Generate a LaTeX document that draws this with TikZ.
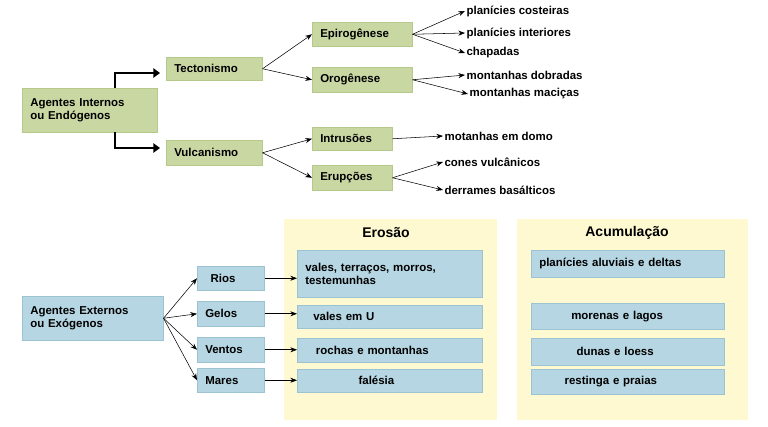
\documentclass[tikz,border=0pt]{standalone}
\usepackage{fontspec}
\setmainfont{Liberation Sans}
\usetikzlibrary{arrows.meta}
\definecolor{gfill}{HTML}{C9D7A3}
\definecolor{gline}{HTML}{B5C98A}
\definecolor{bfill}{HTML}{B5D6E2}
\definecolor{bline}{HTML}{9CC3D2}
\definecolor{yfill}{HTML}{FEF9D0}
\begin{document}
\begin{tikzpicture}[x=0.75pt,y=-0.75pt,
  txt/.style={font=\bfseries\fontsize{8.6}{10}\selectfont},
  gbox/.style={txt,fill=gfill,draw=gline,anchor=north west,inner sep=0pt,align=left},
  bbox/.style={txt,fill=bfill,draw=bline,anchor=north west,inner sep=0pt,align=left},
  bx/.style 2 args={minimum height=#2*0.75pt,text width=#1*0.75pt},
  leaf/.style={txt,anchor=west,inner sep=1pt},
  arr/.style={-{Stealth[length=5pt]},thin},
  big/.style={-{Triangle[length=5pt,width=7pt]},line width=2.2pt}]
\useasboundingbox (0,0) rectangle (768,427);
% green nodes
\node[gbox,bx={135}{44}] (ai) at (22,88) {\hspace*{6pt}Agentes Internos\\\hspace*{6pt}ou Endógenos};
\node[gbox,bx={96}{23}] (tec) at (166,57) {\hspace*{6pt}Tectonismo};
\node[gbox,bx={96}{25}] (vul) at (166,140) {\hspace*{6pt}Vulcanismo};
\node[gbox,bx={100}{24}] (epi) at (312,22) {\hspace*{6pt}Epirogênese};
\node[gbox,bx={100}{25}] (oro) at (312,67) {\hspace*{6pt}Orogênese};
\node[gbox,bx={80}{23}] (int) at (312,127) {\hspace*{6pt}Intrusões};
\node[gbox,bx={80}{25}] (eru) at (312,165) {\hspace*{6pt}Erupções};
\coordinate (t1) at (160,73);\coordinate (t2) at (160,148);
\draw[big] (115,88) -- (115,73) -- (t1);
\draw[big] (115,132) -- (115,148) -- (t2);
\node[leaf] (l1) at (465,11) {planícies costeiras};
\node[leaf] (l2) at (465,33) {planícies interiores};
\node[leaf] (l3) at (465,53) {chapadas};
\node[leaf] (l4) at (465,75) {montanhas dobradas};
\node[leaf] (l5) at (468,94) {montanhas maciças};
\node[leaf] (l6) at (443,136) {motanhas em domo};
\node[leaf] (l7) at (443,162) {cones vulcânicos};
\node[leaf] (l8) at (443,190) {derrames basálticos};
\draw[arr] (tec.east) -- (epi.west);
\draw[arr] (tec.east) -- (oro.west);
\draw[arr] (vul.east) -- (int.west);
\draw[arr] (vul.east) -- (eru.west);
\foreach \l in {l1,l2,l3} \draw[arr] (epi.east) -- (\l.west);
\foreach \l in {l4,l5} \draw[arr] (oro.east) -- (\l.west);
\draw[arr] (int.east) -- (l6.west);
\foreach \l in {l7,l8} \draw[arr] (eru.east) -- (\l.west);
% panels
\fill[yfill] (284,219) rectangle (497,420);
\fill[yfill] (517,219) rectangle (748,420);
\node[txt,font=\bfseries\fontsize{10.5}{12}\selectfont] (ero) at (386,233) {Erosão};
\node[txt,font=\bfseries\fontsize{10.5}{12}\selectfont] (acu) at (627,233) {Acumulação};
% blue
\node[bbox,bx={141}{44}] (ae) at (22,296) {\hspace*{6pt}Agentes Externos\\\hspace*{6pt}ou Exógenos};
\node[bbox,bx={67}{24}] (rio) at (197,266) {\hspace*{10pt}Rios};
\node[bbox,bx={67}{25}] (gel) at (197,301) {\hspace*{6pt}Gelos};
\node[bbox,bx={67}{25}] (ven) at (197,337) {\hspace*{6pt}Ventos};
\node[bbox,bx={67}{24}] (mar) at (197,368) {\hspace*{6pt}Mares};
\foreach \b in {rio,gel,ven,mar} \draw[arr] (ae.east) -- (\b.west);
\node[bbox,bx={185}{47}] (e1) at (297,250) {\hspace*{6pt}vales, terraços, morros,\\\hspace*{6pt}testemunhas};
\node[bbox,bx={185}{23}] (e2) at (297,305) {\hspace*{12pt}vales em U};
\node[bbox,bx={185}{24}] (e3) at (297,338) {\hspace*{14pt}rochas e montanhas};
\node[bbox,bx={185}{23}] (e4) at (297,369) {\hspace*{46pt}falésia};
\draw[arr] (rio.east) -- (e1.west|-rio.east);
\draw[arr] (gel.east) -- (e2.west|-gel.east);
\draw[arr] (ven.east) -- (e3.west|-ven.east);
\draw[arr] (mar.east) -- (e4.west|-mar.east);
\node[bbox,bx={193}{27}] (a1) at (531,250) {\hspace*{6pt}planícies aluviais e deltas};
\node[bbox,bx={193}{26}] (a2) at (531,303) {\hspace*{30pt}morenas e lagos};
\node[bbox,bx={193}{27}] (a3) at (531,338) {\hspace*{34pt}dunas e loess};
\node[bbox,bx={193}{25}] (a4) at (531,369) {\hspace*{25pt}restinga e praias};
\end{tikzpicture}
\end{document}
